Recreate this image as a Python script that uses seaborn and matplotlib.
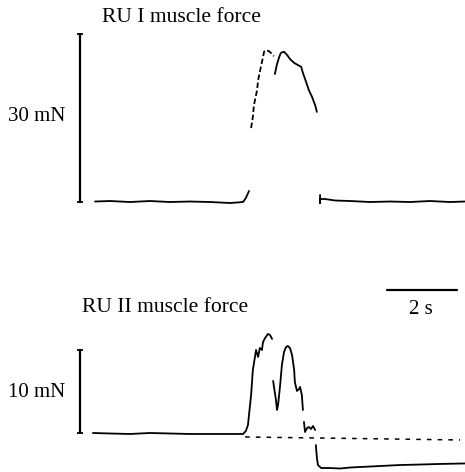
import numpy as np
import pandas as pd
import matplotlib
matplotlib.use('Agg')
import matplotlib.pyplot as plt
import seaborn as sns

## dados (tempo em s, força em mN)
## RU I - trechos do traçado
top_a_t = [0.00, 0.43, 1.00, 1.57, 2.14, 2.71, 3.29, 3.86, 4.23, 4.31, 4.40]
top_a_f = [-0.09, 0.0, -0.18, 0.0, -0.18, -0.09, -0.18, -0.36, -0.18, 0.54, 1.80]

top_b_t = [4.46, 4.51, 4.54, 4.63, 4.66, 4.74, 4.80, 4.83, 4.89, 4.97, 5.06, 5.11]
top_b_f = [13.1, 15.1, 17.2, 19.9, 21.7, 24.1, 25.8, 26.8, 27.1, 26.9, 26.4, 26.0]

top_c_t = [5.14, 5.20, 5.26, 5.31, 5.40, 5.49, 5.57, 5.69, 5.80, 5.89,
           5.94, 6.03, 6.11, 6.20, 6.29, 6.34]
top_c_f = [22.8, 24.6, 25.8, 26.6, 26.8, 26.2, 25.5, 24.8, 24.4, 24.1,
           23.0, 21.4, 19.9, 18.7, 17.2, 16.0]

top_d_t = [6.43, 6.43, 6.43, 6.57, 6.86, 7.29, 7.86, 8.43, 9.00, 9.57, 10.14, 10.57]
top_d_f = [1.08, -0.36, 0.36, 0.36, 0.09, 0.0, -0.18, -0.09, -0.18, 0.0, -0.18, -0.09]

## RU II - trechos do traçado
bot_a_t = [-0.06, 0.43, 1.00, 1.57, 2.14, 2.71, 3.29, 3.86, 4.23, 4.31, 4.37,
           4.40, 4.46, 4.51, 4.57, 4.60, 4.66, 4.71, 4.77, 4.80, 4.86, 4.94,
           5.00, 5.06]
bot_a_f = [0.0, -0.06, -0.12, 0.0, -0.06, -0.12, -0.12, -0.12, -0.12, 0.24, 0.96,
           2.17, 4.58, 7.59, 9.16, 10.0, 9.16, 10.24, 10.0, 10.96, 11.45, 11.93,
           11.81, 11.33]

bot_b_t = [5.09, 5.11, 5.17, 5.20, 5.23, 5.29, 5.34, 5.40, 5.46, 5.51, 5.57,
           5.63, 5.69, 5.71, 5.77, 5.83, 5.86, 5.89, 5.91, 5.94]
bot_b_f = [6.27, 5.66, 3.98, 2.77, 3.37, 5.78, 8.19, 9.76, 10.36, 10.48, 10.24,
           9.40, 7.59, 6.14, 5.06, 5.30, 5.54, 4.94, 4.58, 2.77]

bot_c_t = [5.97, 6.00, 6.06, 6.11, 6.17, 6.23, 6.29]
bot_c_f = [1.33, 0.12, 0.60, 0.72, 0.48, 0.84, 0.36]

bot_d_t = [6.31, 6.34, 6.37, 6.46, 6.71, 7.00, 7.29, 7.57, 8.14, 8.71, 9.29, 9.86, 10.57]
bot_d_f = [-1.45, -3.01, -3.86, -4.22, -4.22, -4.28, -4.16, -4.10, -3.98, -3.86,
           -3.80, -3.73, -3.67]

## linha de base tracejada do RU II
bot_base_t = [4.29, 10.43]
bot_base_f = [-0.48, -0.84]

## barras de escala
top_bar_t = [-0.43, -0.43]
top_bar_f = [-0.15, 30.0]
bot_bar_t = [-0.43, -0.43]
bot_bar_f = [0.0, 10.0]
time_bar_t = [8.34, 10.34]
time_bar_f = [17.2, 17.2]


def monta_df(trechos):
    partes = []
    for i, (t, f) in enumerate(trechos):
        partes.append(pd.DataFrame({'t': t, 'F': f, 'seg': i}))
    return pd.concat(partes, ignore_index=True)


sns.set_style('white')
plt.rcParams['font.family'] = ['Liberation Serif', 'DejaVu Serif']
plt.rcParams['text.color'] = 'black'

fig = plt.figure(figsize=(4.65, 4.72), dpi=100)
ax_top = fig.add_axes([0, 1 - 240 / 472, 1, 240 / 472])
ax_bot = fig.add_axes([0, 0, 1, 1 - 240 / 472])

cor = 'black'
tam = 15
tam_tit = 15.5

## painel superior - RU I
df_top = monta_df([(top_a_t, top_a_f), (top_c_t, top_c_f), (top_d_t, top_d_f)])
sns.lineplot(data=df_top, x='t', y='F', units='seg', estimator=None,
             sort=False, color=cor, lw=1.3, ax=ax_top)
sns.lineplot(x=top_b_t, y=top_b_f, estimator=None, sort=False, color=cor,
             lw=1.3, ax=ax_top)
ax_top.lines[-1].set_dashes((3, 1.5))
sns.lineplot(x=top_bar_t, y=top_bar_f, estimator=None, sort=False, color=cor,
             lw=1.6, marker='_', markersize=5, mew=1.3, mec=cor, ax=ax_top)
ax_top.text(0.2, 33.0, 'RU I muscle force', ha='left', va='center',
            fontsize=tam_tit, color=cor)
ax_top.text(-0.86, 15.1, '30 mN', ha='right', va='center', fontsize=tam, color=cor)
ax_top.set_xlim(-2.714, 10.571)
ax_top.set_ylim(-7.0, 36.09)

## painel inferior - RU II
df_bot = monta_df([(bot_a_t, bot_a_f), (bot_b_t, bot_b_f),
                   (bot_c_t, bot_c_f), (bot_d_t, bot_d_f)])
sns.lineplot(data=df_bot, x='t', y='F', units='seg', estimator=None,
             sort=False, color=cor, lw=1.3, ax=ax_bot)
sns.lineplot(x=bot_base_t, y=bot_base_f, estimator=None, color=cor, lw=1.1,
             ax=ax_bot)
ax_bot.lines[-1].set_dashes((3, 4))
sns.lineplot(x=bot_bar_t, y=bot_bar_f, estimator=None, sort=False, color=cor,
             lw=1.6, marker='_', markersize=5, mew=1.3, mec=cor, ax=ax_bot)
sns.lineplot(x=time_bar_t, y=time_bar_f, estimator=None, color=cor, lw=1.6,
             ax=ax_bot)
ax_bot.text(-0.37, 15.06, 'RU II muscle force', ha='left', va='center',
            fontsize=tam_tit, color=cor)
ax_bot.text(-0.86, 4.9, '10 mN', ha='right', va='center', fontsize=tam, color=cor)
ax_bot.text(9.31, 14.9, '2 s', ha='center', va='center', fontsize=tam, color=cor)
ax_bot.set_xlim(-2.714, 10.571)
ax_bot.set_ylim(-4.70, 23.25)

for ax in (ax_top, ax_bot):
    ax.set_axis_off()

fig.savefig('out.png', dpi=100, facecolor='white')
